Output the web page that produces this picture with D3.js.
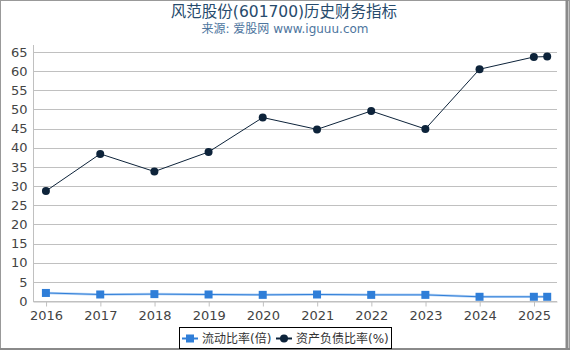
<!DOCTYPE html>
<html>
<head>
<meta charset="utf-8">
<script src="https://cdn.jsdelivr.net/npm/d3@7"></script>
<style>
body { margin: 0; background: #fff; }
svg { display: block; font-family: "DejaVu Sans", "Noto Sans CJK SC", sans-serif; }
</style>
</head>
<body>
<svg id="chart" width="570" height="350"></svg>
<script>
// report dates and values
var dates = ["2015-12-31", "2016-12-31", "2017-12-31", "2018-12-31", "2019-12-31",
	"2020-12-31", "2021-12-31", "2022-12-31", "2023-12-31", "2024-12-31", "2025-03-31"];
var currentRatio = [2.1, 1.7, 1.8, 1.7, 1.6, 1.7, 1.6, 1.6, 1.1, 1.1, 1.1];
var debtRatio = [28.7, 38.4, 33.8, 38.9, 47.9, 44.8, 49.6, 44.9, 60.5, 63.7, 63.8];
var seriesNames = ["流动比率(倍)", "资产负债比率(%)"];
var yTicks = d3.range(0, 66, 5);

var svg = d3.select("#chart");
var W = 570, H = 350;
var parse = d3.timeParse("%Y-%m-%d");

// frame
svg.append("rect").attr("x", 0.5).attr("y", 0.5).attr("width", W - 1).attr("height", H - 1)
	.attr("fill", "#fff").attr("stroke", "#999");
svg.append("line").attr("x1", 567).attr("x2", 567).attr("y1", 0).attr("y2", H)
	.attr("stroke", "#8a8a8a").attr("stroke-width", 3);
svg.append("line").attr("x1", 0).attr("x2", W).attr("y1", 349).attr("y2", 349)
	.attr("stroke", "#8a8a8a").attr("stroke-width", 2);

svg.append("text").attr("x", 284).attr("y", 17).attr("text-anchor", "middle")
	.attr("font-size", 15.5).attr("fill", "#274b6d").text("风范股份(601700)历史财务指标");
svg.append("text").attr("x", 285).attr("y", 33).attr("text-anchor", "middle")
	.attr("font-size", 12).attr("fill", "#4d759e").text("来源: 爱股网 www.iguuu.com");

var x = d3.scaleTime()
	.domain([new Date(2015, 9, 5), new Date(2025, 5, 5)])
	.range([33, 557]);
var y = d3.scaleLinear().domain([0, 65]).range([301, 52]);

// grid
svg.append("g").selectAll("line").data(yTicks).enter().append("line")
	.attr("x1", 33).attr("x2", 557)
	.attr("y1", function(d) { return Math.round(y(d)) + 0.5; })
	.attr("y2", function(d) { return Math.round(y(d)) + 0.5; })
	.attr("stroke", "#c0c0c0");

// y axis
var yAxis = svg.append("g").attr("transform", "translate(33.5,0)")
	.call(d3.axisLeft(y).tickValues(yTicks).tickSize(0).tickPadding(6));
yAxis.select(".domain").attr("stroke", "#c0c0c0").attr("d", "M0,45V301");
yAxis.selectAll("text").attr("font-size", 13).attr("fill", "#444")
	.attr("font-family", "DejaVu Sans");

// x axis
var xAxis = svg.append("g").attr("transform", "translate(0,301.5)")
	.call(d3.axisBottom(x).ticks(d3.timeYear.every(1)).tickFormat(d3.timeFormat("%Y"))
		.tickSize(5).tickSizeOuter(0).tickPadding(4));
xAxis.select(".domain").attr("stroke", "#c0c0c0");
xAxis.selectAll(".tick line").attr("stroke", "#c0c0c0");
xAxis.selectAll("text").attr("font-size", 13).attr("fill", "#444")
	.attr("font-family", "DejaVu Sans");

var pts1 = dates.map(function(d, i) { return [x(parse(d)), y(currentRatio[i])]; });
var pts2 = dates.map(function(d, i) { return [x(parse(d)), y(debtRatio[i])]; });
var line = d3.line();

svg.append("path").attr("d", line(pts1)).attr("fill", "none")
	.attr("stroke", "#b5d3f5").attr("stroke-width", 2.5);
svg.append("path").attr("d", line(pts1)).attr("fill", "none")
	.attr("stroke", "#2f7ed8").attr("stroke-width", 1);
svg.append("g").selectAll("rect").data(pts1).enter().append("rect")
	.attr("x", function(d) { return d[0] - 4; }).attr("y", function(d) { return d[1] - 4; })
	.attr("width", 8).attr("height", 8).attr("fill", "#2f7ed8");

svg.append("path").attr("d", line(pts2)).attr("fill", "none")
	.attr("stroke", "#0d233a").attr("stroke-width", 1);
svg.append("g").selectAll("circle").data(pts2).enter().append("circle")
	.attr("cx", function(d) { return d[0]; }).attr("cy", function(d) { return d[1]; })
	.attr("r", 4).attr("fill", "#0d233a");

// legend
var lg = svg.append("g");
lg.append("rect").attr("x", 179.5).attr("y", 327.5).attr("width", 212).attr("height", 21)
	.attr("fill", "#fff").attr("stroke", "#000");
var items = [{x: 182, color: "#2f7ed8", shape: "square"}, {x: 276, color: "#0d233a", shape: "circle"}];
items.forEach(function(it, i) {
	lg.append("line").attr("x1", it.x).attr("x2", it.x + 16).attr("y1", 338.5).attr("y2", 338.5)
		.attr("stroke", it.color).attr("stroke-width", 2);
	if (it.shape == "square") {
		lg.append("rect").attr("x", it.x + 4).attr("y", 334.5).attr("width", 8).attr("height", 8)
			.attr("fill", it.color);
	} else {
		lg.append("circle").attr("cx", it.x + 8).attr("cy", 338.5).attr("r", 4).attr("fill", it.color);
	}
	lg.append("text").attr("x", it.x + 20).attr("y", 343).attr("font-size", 12)
		.attr("fill", "#333").text(seriesNames[i]);
});
</script>
</body>
</html>
